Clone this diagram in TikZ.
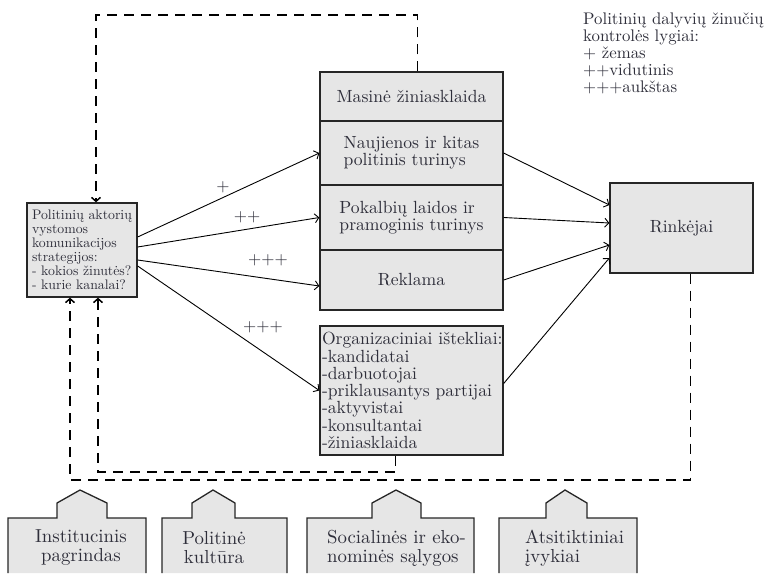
\documentclass[tikz,border=0pt]{standalone}
\usepackage{fontspec}
\setmainfont{lmroman10-regular}[Extension=.otf]
\usepackage{tikz}
\usetikzlibrary{arrows.meta}
\definecolor{boxgray}{HTML}{E6E6E6}
\definecolor{inkgray}{HTML}{2E2E3A}
\tikzstyle{layer} = [draw=black!85, fill=boxgray, line width=1.3pt, minimum width=183pt, inner sep=0pt, text=inkgray, font=\fontsize{17.6}{17.3}\selectfont]
\tikzstyle{strat} = [draw=black!85, fill=boxgray, line width=1.3pt, minimum width=110pt, minimum height=94pt, text width=100pt, align=left, inner sep=0pt, text=inkgray, font=\fontsize{13.8}{13.9}\selectfont]
\tikzstyle{legend} = [inner sep=0pt, align=left, text=inkgray, font=\fontsize{16.8}{17}\selectfont]
\tikzstyle{levellabel} = [inner sep=0pt, text=inkgray, font=\fontsize{17}{17}\selectfont]
\tikzstyle{base} = [draw=black!85, fill=boxgray, line width=1.3pt]
\tikzstyle{basetext} = [inner sep=0pt, text=inkgray, font=\fontsize{18.8}{19}\selectfont]
\tikzstyle{link} = [->, line width=0.9pt]
\tikzstyle{feedback} = [->, line width=1.5pt, dash pattern=on 10pt off 7pt]

\begin{document}
\begin{tikzpicture}[x=1pt, y=-1pt, >={Straight Barb[length=4pt,width=9pt]}]
    \useasboundingbox (0,0) rectangle (768,573);
    % media stack
    \node[layer, minimum height=49pt](masine) at (411.5,96.5){Masinė žiniasklaida};
    \node[layer, minimum height=64pt, align=left](naujienos) at (411.5,153){Naujienos ir kitas\\politinis turinys};
    \node[layer, minimum height=65pt, align=left](pokalbiai) at (411.5,217.5){Pokalbių laidos ir\\pramoginis turinys};
    \node[layer, minimum height=60pt](reklama) at (411.5,280){Reklama};
    \node[layer, minimum height=129pt, text width=179pt, align=left](istekliai) at (411.5,390.5){\mbox{Organizaciniai ištekliai:}\\-kandidatai\\-darbuotojai\\\mbox{-priklausantys partijai}\\-aktyvistai\\-konsultantai\\-žiniasklaida};
    \node[layer, minimum width=143pt, minimum height=90pt](rinkejai) at (681.5,228){Rinkėjai};
    \node[strat](strategija) at (82,250){\mbox{Politinių aktorių}\\vystomos\\komunikacijos\\strategijos:\\\mbox{- kokios žinutės?}\\\mbox{- kurie kanalai?}};
    \node[legend, anchor=north west](lygiai) at (583,13){Politinių dalyvių žinučių\\kontrolės lygiai:\\+ žemas\\++vidutinis\\+++aukštas};
    % levels
    \node[levellabel](l1) at (223,187){+};
    \node[levellabel](l2) at (247,217){++};
    \node[levellabel](l3) at (268,260){+++};
    \node[levellabel](l4) at (263,327){+++};
    \draw[link]([yshift=13pt]strategija.east)--(naujienos.west);
    \draw[link]([yshift=3pt]strategija.east)--(pokalbiai.west);
    \draw[link]([yshift=-10pt]strategija.east)--([yshift=-6pt]reklama.west);
    \draw[link]([yshift=-16pt]strategija.east)--(istekliai.west);
    \draw[link](naujienos.east)--([yshift=23pt]rinkejai.west);
    \draw[link](pokalbiai.east)--([yshift=5pt]rinkejai.west);
    \draw[link](reklama.east)--([yshift=-17pt]rinkejai.west);
    \draw[link]([yshift=7pt]istekliai.east)--([yshift=-30pt]rinkejai.west);
    % feedback loops
    \coordinate (virsus) at (96,15);
    \coordinate (apacia1) at (70,480);
    \coordinate (apacia2) at (98,472);
    \draw[feedback]([xshift=6pt]masine.north) |- (virsus) -- (virsus |- strategija.north);
    \draw[feedback]([xshift=9pt]rinkejai.south) |- (apacia1) -- (apacia1 |- strategija.south);
    \draw[feedback]([xshift=-16pt]istekliai.south) |- (apacia2) -- (apacia2 |- strategija.south);
    % context
    \filldraw[base] (8,573) -- (8,518) -- (57,518) -- (57,503) -- (80,490) -- (107,503) -- (107,518) -- (146,518) -- (146,573);
    \filldraw[base] (162,573) -- (162,518) -- (192,518) -- (192,503) -- (213,490) -- (235,503) -- (235,518) -- (287,518) -- (287,573);
    \filldraw[base] (307,573) -- (307,518) -- (372,518) -- (372,503) -- (396,490) -- (421,503) -- (421,518) -- (474,518) -- (474,573);
    \filldraw[base] (499,573) -- (499,518) -- (546,518) -- (546,503) -- (565,490) -- (587,503) -- (587,518) -- (637,518) -- (637,573);
    \node[basetext, align=center](pagrindas) at (81,548){Institucinis\\pagrindas};
    \node[basetext, align=center](kultura) at (214,548){Politinė\\kultūra};
    \node[basetext, align=left, anchor=west](salygos) at (327,548){Socialinės ir eko-\\nominės sąlygos};
    \node[basetext, align=left, anchor=west](ivykiai) at (525,548){Atsitiktiniai\\įvykiai};
\end{tikzpicture}
\end{document}
